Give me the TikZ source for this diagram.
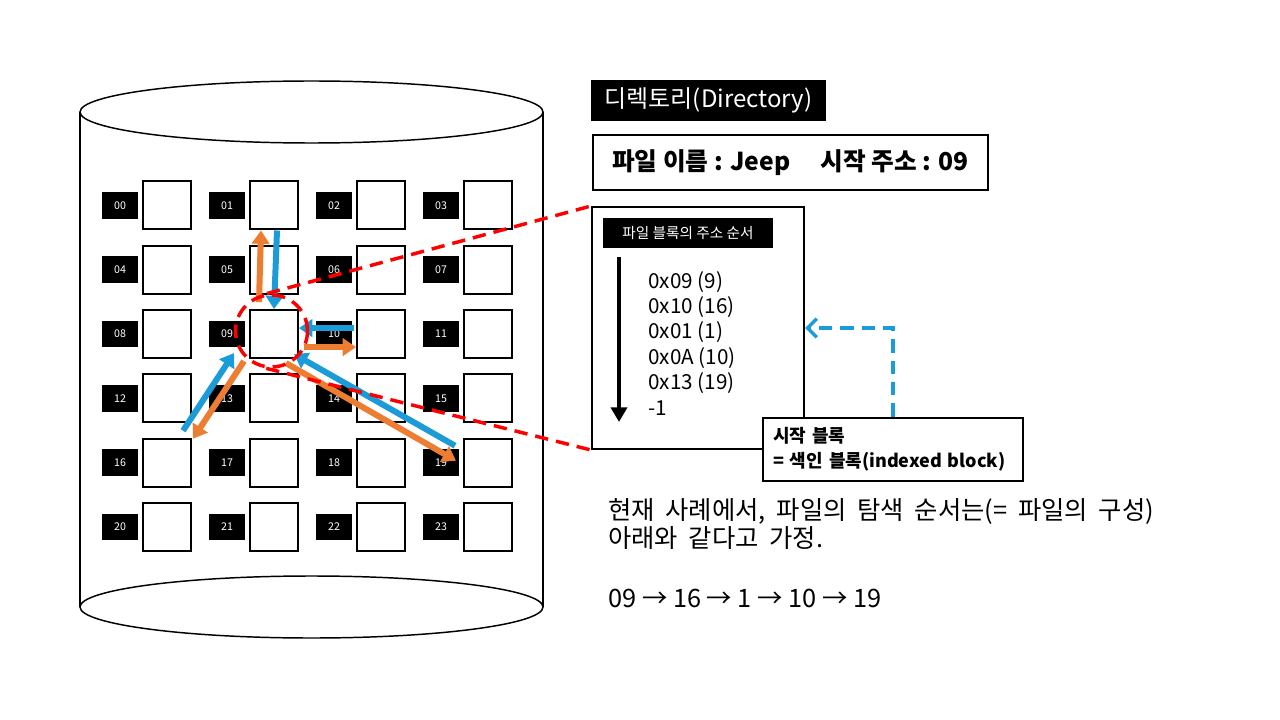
\documentclass[tikz,border=0pt]{standalone}
\usepackage{fontspec}
\setmainfont{Noto Sans CJK KR}
\newfontfamily\widefont{Noto Sans CJK KR}[WordSpace=1.9]
\usetikzlibrary{calc,arrows.meta}
\definecolor{org}{HTML}{ED7D31}
\definecolor{blu}{HTML}{1B9BD7}
\begin{document}
\begin{tikzpicture}[x=0.75pt, y=-0.75pt,
    sq/.style={draw, line width=1.5pt, minimum size=36pt, inner sep=0pt},
    lab/.style={fill=black, text=white, font=\fontsize{8}{8}\selectfont, minimum width=27pt, minimum height=20pt, inner sep=0pt},
    oarr/.style={draw=org, line width=4.5pt, -{Triangle[width=13pt,length=10pt]}},
    barr/.style={draw=blu, line width=4.5pt, -{Triangle[width=13pt,length=10pt]}},
    rdash/.style={draw=red, line width=2.6pt, dash pattern=on 10pt off 6pt},
    box/.style={draw, line width=1.5pt, fill=white, inner sep=0pt},
    note/.style={anchor=west, inner sep=0pt, font=\fontsize{19}{19}\selectfont}]
    \useasboundingbox (0,0) rectangle (1280,720);
    % disk
    \draw[line width=1.1pt] (80,112) -- (80,607) (543,112) -- (543,607);
    \draw[line width=1.1pt] (311.5,112) ellipse [x radius=231.5, y radius=31];
    \draw[line width=1.1pt] (311.5,607) ellipse [x radius=231.5, y radius=31];
    % blocks 00..23
    \foreach \r in {0,...,5} \foreach \c in {0,...,3} {
        \pgfmathtruncatemacro\n{4*\r+\c}
        \node[sq] (b\n) at (167+107*\c, 205.5+64.3*\r) {};
        \node[lab] (l\n) at (120+107*\c, 205.5+64.3*\r) {\ifnum\n<10 0\fi\n};
    }
    % search order arrows
    \draw[oarr] ($(b9.north)+(-15,-7)$) -- ($(b1.south)+(-13,0)$);
    \draw[barr] ($(b1.south)+(3,0)$) -- (b9.north);
    \draw[barr] ($(b10.west)+(-2,-6)$) -- ($(b9.east)+(0,-6)$);
    \draw[oarr] ($(b9.east)+(5,13)$) -- ($(b10.west)+(0,13)$);
    \draw[barr] ($(b16.north east)+(-9,-7)$) -- ($(b9.south west)+(-15,-6)$);
    \draw[oarr] ($(b9.south west)+(-5,2)$) -- ($(b16.north east)+(1,1)$);
    \draw[barr] ($(b19.north west)+(-8,8)$) -- ($(b9.south east)+(-5,-5)$);
    \draw[oarr] ($(b9.south east)+(-13,4)$) -- ($(b19.north west)+(-7,23)$);
    % directory
    \node[fill=black, text=white, minimum width=176pt, minimum height=31pt, inner sep=0pt, font=\fontsize{18}{18}\selectfont] (dir) at (708.5,100.5) {디렉토리(Directory)};
    \node[box, minimum width=296pt, minimum height=41pt, font=\fontsize{18.5}{18.5}\selectfont\bfseries] (fb) at (790.5,162.5) {파일 이름 : Jeep\quad\ 시작 주소 : 09};
    % index block
    \node[box, minimum width=159pt, minimum height=181.5pt] (ib) at (698,328) {};
    \node[fill=black, text=white, minimum width=127.5pt, minimum height=22.5pt, inner sep=0pt, font=\fontsize{11}{11}\selectfont] (il) at (688,233) {파일 블록의 주소 순서};
    \coordinate (a0) at ($(ib.north west)+(28,51)$);
    \coordinate (a1) at ($(ib.south west)+(28,-28)$);
    \draw[line width=3pt, -{Triangle[width=12pt,length=11pt]}] (a0) -- (a1);
    \foreach \t [count=\i from 0] in {0x09 (9), 0x10 (16), 0x01 (1), 0x0A (10), 0x13 (19), -1}
        \node[anchor=west, inner sep=0pt, font=\fontsize{15.5}{15.5}\selectfont] (v\i) at (648,282+25.2*\i) {\t};
    % red zoom lines
    \node[rdash, circle, minimum size=54pt, inner sep=0pt] (e) at (271.5,331) {};
    \draw[rdash] (e.97) -- (ib.north west);
    \draw[rdash] (e.262) -- (ib.south west);
    % start block
    \node[box, text width=180pt, inner sep=7.5pt, minimum height=41.25pt, align=left, font=\fontsize{13.5}{18.75}\selectfont\bfseries] (sb) at (893,449.5) {시작 블록\\= 색인 블록(indexed block)};
    \draw[blu, line width=2.6pt, dash pattern=on 10pt off 6pt, -{Straight Barb[width=14pt,length=7pt]}] (sb.north) |- (ib.east);
    % note
    \node[note] (t1) at (608,512) {\widefont 현재 사례에서, 파일의 탐색 순서는(= 파일의 구성)};
    \node[note] (t2) at (608,538) {\widefont 아래와 같다고 가정.};
    \node[note] (t3) at (608,598) {09 → 16 → 1 → 10 → 19};
\end{tikzpicture}
\end{document}
